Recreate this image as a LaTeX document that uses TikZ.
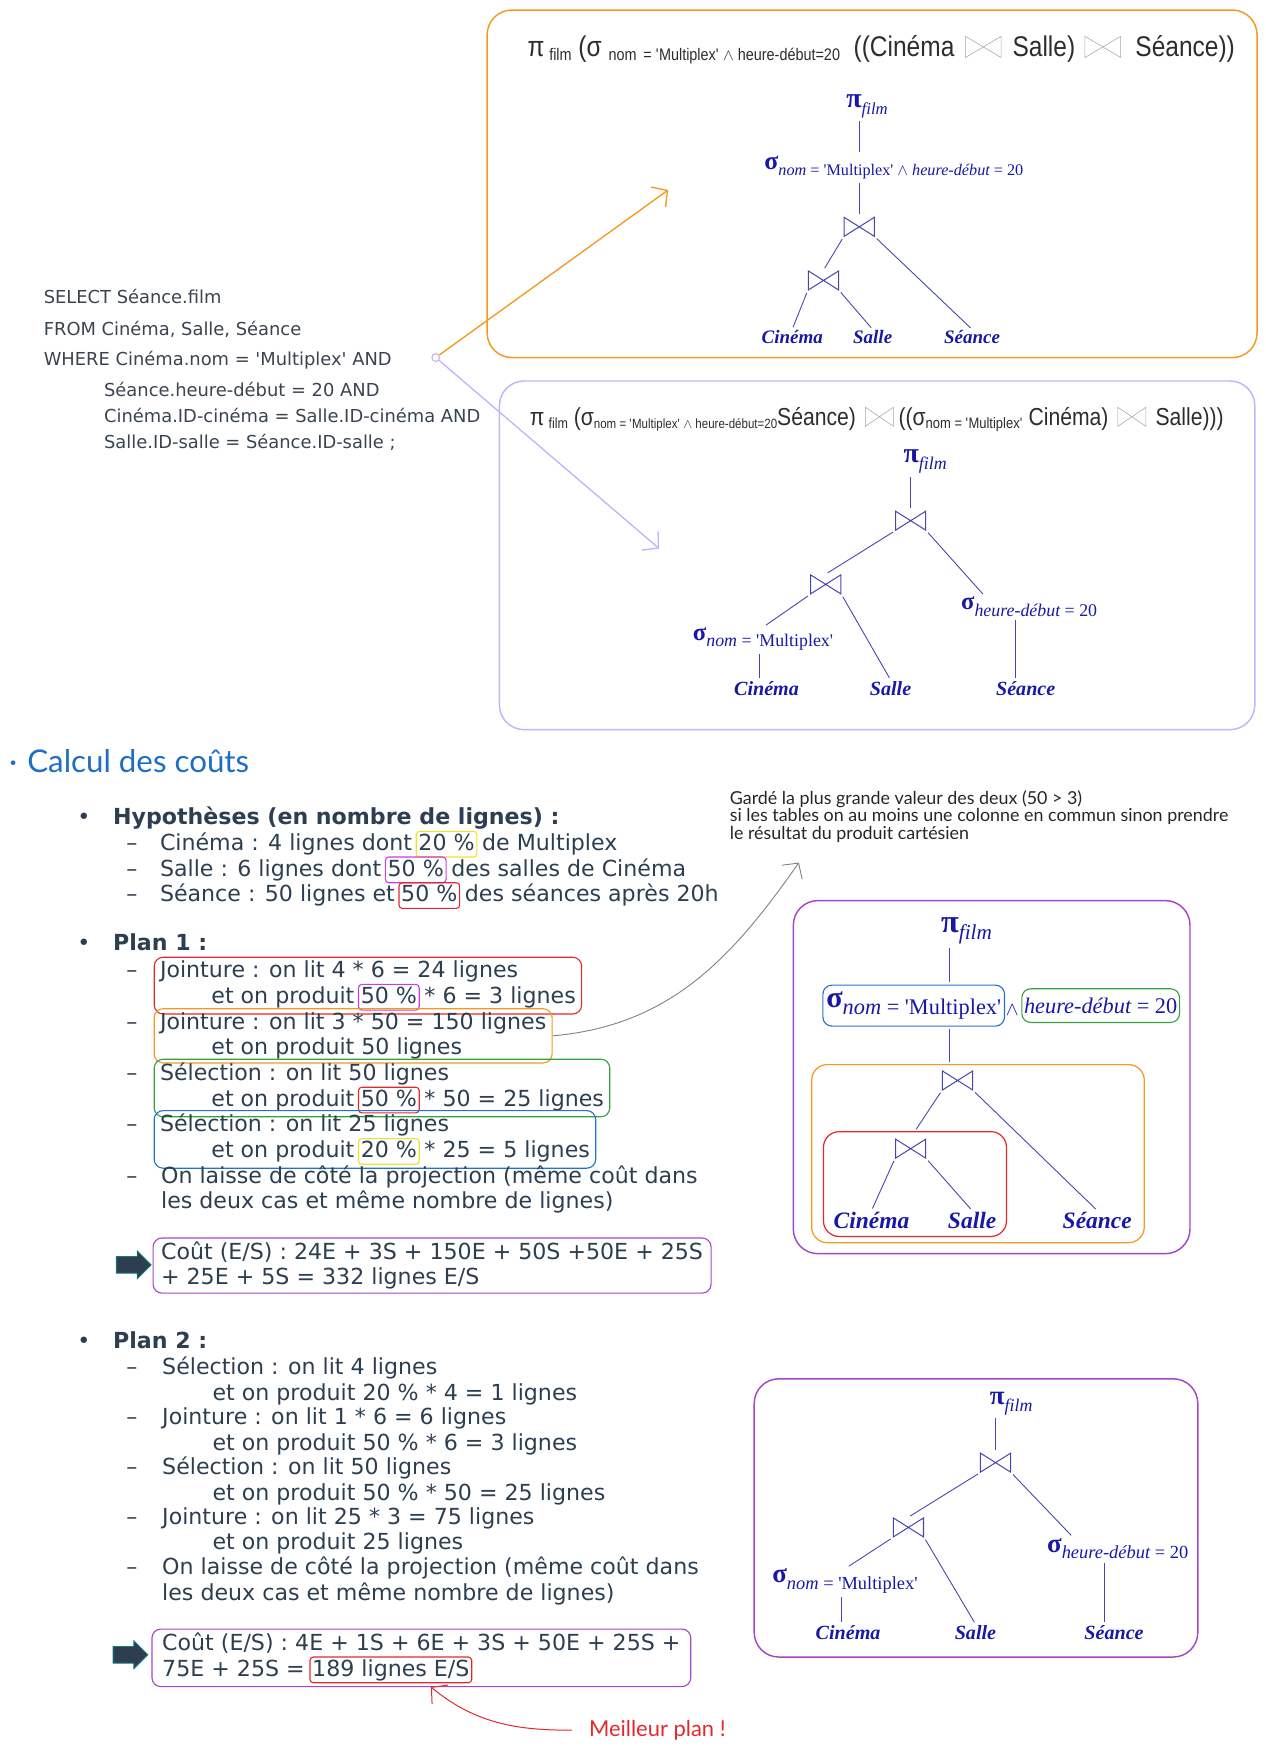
\documentclass[tikz,border=0pt]{standalone}
\usepackage{fontspec}
\setmainfont{DejaVu Sans}
\newfontfamily\treefont{Liberation Serif}
\newfontfamily\hdrfont{Liberation Sans}[FakeStretch=0.86]
\newfontfamily\handfont{Lato}
\usetikzlibrary{arrows.meta,positioning,fit,shapes.arrows}
\definecolor{ink}{RGB}{44,62,80}
\definecolor{sqlgray}{RGB}{58,68,80}
\definecolor{hdrgray}{RGB}{45,45,45}
\definecolor{treeblue}{RGB}{24,24,165}
\definecolor{edgeblue}{RGB}{70,70,175}
\definecolor{boxorange}{RGB}{245,152,30}
\definecolor{lavender}{RGB}{192,180,250}
\definecolor{boxpurple}{RGB}{165,70,200}
\definecolor{boxred}{RGB}{228,40,45}
\definecolor{boxmagenta}{RGB}{205,60,225}
\definecolor{boxyellow}{RGB}{235,228,40}
\definecolor{boxgreen}{RGB}{55,160,65}
\definecolor{boxblue}{RGB}{35,115,205}
\definecolor{handblue}{RGB}{30,110,195}
\definecolor{arrowteal}{RGB}{20,120,115}
\newcommand{\q}{\textquotesingle}
\newcommand{\lo}[2]{\raisebox{-.3em}{\fontsize{#1}{#1}\selectfont #2}}
\newcommand{\lw}[2]{\raisebox{-.12em}{\fontsize{#1}{#1}\selectfont #2}}
\newcommand{\sig}[1]{{\bfseries\fontsize{#1}{#1}\selectfont σ}}
\newcommand{\pif}[2]{{\bfseries\fontsize{#1}{#1}\selectfont π}\lo{#2}{\itshape film}}
\tikzset{%
    txt/.style={anchor=base west, inner sep=0pt, text=ink, font=\fontsize{19.8}{23}\selectfont},
    sql/.style={anchor=base west, inner sep=0pt, text=sqlgray, font=\fontsize{16}{16}\selectfont},
    hdr/.style={anchor=base west, inner sep=0pt, text=hdrgray, font=\hdrfont\fontsize{#1}{#1}\selectfont},
    pct/.style={draw=#1, line width=1pt, rounded corners=3pt, inner xsep=2pt, inner ysep=1pt,
        text height=16pt, text depth=5pt, anchor=base west, text=ink, font=\fontsize{19.8}{23}\selectfont},
    itembox/.style={draw=#1, line width=1pt, rounded corners=8pt, inner xsep=5pt, inner ysep=3pt},
    frame/.style={draw=#1, line width=1.3pt, rounded corners=22pt},
    grp/.style={draw=#1, line width=1.1pt, rounded corners=14pt},
    bowtie/.style={inner sep=0pt, path picture={%
        \draw[#1] ([shift={(.5pt,-.5pt)}]path picture bounding box.north west)
            -- ([shift={(-.5pt,.5pt)}]path picture bounding box.south east)
            -- ([shift={(-.5pt,-.5pt)}]path picture bounding box.north east)
            -- ([shift={(.5pt,.5pt)}]path picture bounding box.south west) -- cycle;}},
    hjoin/.style={bowtie={gray!70, line width=.5pt}, minimum width=33, minimum height=20},
    tjoin/.style={bowtie={edgeblue, line width=.9pt}, minimum width=28, minimum height=18},
    op/.style={inner sep=1pt, text=treeblue, font=\treefont\fontsize{#1}{#1}\selectfont},
    leaf/.style={inner sep=1pt, text=treeblue, font=\treefont\bfseries\itshape\fontsize{#1}{#1}\selectfont},
    tedge/.style={draw=edgeblue, line width=.8pt, shorten <=2pt, shorten >=2pt},
    hand/.style={anchor=base west, inner sep=0pt, font=\handfont\fontsize{#1}{#1}\selectfont},
    bigarrow/.style={single arrow, fill=ink, draw=arrowteal, line width=.8pt, minimum height=31pt,
        minimum width=24pt, single arrow head extend=5pt, inner xsep=0pt, inner ysep=7pt},
    barb/.style={-{Straight Barb[length=10pt,width=22pt]}}
}

\begin{document}
\begin{tikzpicture}[x=1pt,y=-1pt]
    \useasboundingbox (0,0) rectangle (1133,1568);

    % the two equivalent expressions
    \draw[frame=boxorange] (436,9) rectangle (1125,320);
    \draw[frame=lavender] (447,341) rectangle (1123,653);

    \node[hdr=25.5] (f1a) at (472,51) {π\,\lw{15}{film} (σ \lw{15}{nom \,= \q Multiplex\q\ $\wedge$ heure-début=20}\ \ ((Cinéma};
    \node[hjoin] (f1j) at (880,42) {};
    \node[hdr=25.5] (f1b) at (906,51) {Salle)};
    \node[hjoin] (f1k) at (987,42) {};
    \node[hdr=25.5] (f1c) at (1016,51) {Séance))};

    \node[hdr=22] (f2a) at (474,381) {π\,\lw{13}{film} (σ\lw{12}{nom = \q Multiplex\q\ $\wedge$ heure-début=20}Séance)};
    \node[hjoin, minimum width=26, minimum height=18] (f2j) at (787,373) {};
    \node[hdr=22] (f2b) at (804,381) {((σ\lw{13.5}{nom = \q Multiplex\q}\ Cinéma)};
    \node[hjoin, minimum width=26, minimum height=18] (f2k) at (1013,373) {};
    \node[hdr=22] (f2c) at (1034,381) {Salle)))};

    % tree 1
    \node[op=20] (t1p) at (776,95) {\pif{25}{15}};
    \node[op=20] (t1s) at (800,150) {\sig{23}\lo{14.5}{\itshape nom \upshape= \q Multiplex\q\ $\wedge$ \itshape heure-début \upshape= 20}};
    \node[tjoin] (t1j) at (769,203) {};
    \node[tjoin] (t1k) at (737,251) {};
    \node[leaf=17] (t1c) at (709,302) {Cinéma};
    \node[leaf=17] (t1l) at (781,302) {Salle};
    \node[leaf=17] (t1e) at (870,302) {Séance};
    \draw[tedge] (t1j |- t1p.south) -- (t1j |- t1s.north);
    \draw[tedge] (t1j |- t1s.south) -- (t1j.north);
    \draw[tedge] (t1j.south west) -- (t1k.north);
    \draw[tedge] (t1j.south east) -- (t1e.north);
    \draw[tedge] (t1k.south west) -- (t1c.north);
    \draw[tedge] (t1k.south east) -- (t1l.north);

    % tree 2
    \node[op=20] (t2p) at (828,413) {\pif{25}{16}};
    \node[tjoin] (t2j) at (815,466) {};
    \node[tjoin] (t2k) at (739,523) {};
    \node[op=19, anchor=west] (t2n) at (619,572) {\sig{22}\lo{16}{\itshape nom \upshape= \q Multiplex\q}};
    \node[op=19, anchor=west] (t2h) at (859,543) {\sig{22}\lo{16}{\itshape heure-début \upshape= 20}};
    \node[leaf=18] (t2c) at (686,616) {Cinéma};
    \node[leaf=18] (t2l) at (797,616) {Salle};
    \node[leaf=18] (t2e) at (918,616) {Séance};
    \coordinate (t2y) at ([xshift=61pt]t2n.south west);
    \coordinate (t2z) at ([xshift=50pt]t2h.south west);
    \draw[tedge] (t2j |- t2p.south) -- (t2j.north);
    \draw[tedge] (t2j.south west) -- (t2k.north);
    \draw[tedge] (t2j.south east) -- ([xshift=22pt]t2h.north west);
    \draw[tedge] (t2k.south west) -- ([xshift=65pt]t2n.north west);
    \draw[tedge] (t2k.south east) -- (t2l.north);
    \draw[tedge] (t2y) -- (t2y |- t2c.north);
    \draw[tedge] (t2z) -- (t2z |- t2e.north);

    % SQL query
    \node[sql] (s1) at (39,272) {SELECT Séance.film};
    \node[sql] (s2) at (39,300) {FROM Cinéma, Salle, Séance};
    \node[sql] (s3) at (39,327) {WHERE Cinéma.nom = \q Multiplex\q\ AND};
    \node[sql] (s4) at (93,355) {Séance.heure-début = 20 AND};
    \node[sql] (s5) at (93,378) {Cinéma.ID-cinéma = Salle.ID-cinéma AND};
    \node[sql] (s6) at (93,401) {Salle.ID-salle = Séance.ID-salle ;};
    \node[circle, draw=lavender, line width=1pt, minimum size=7, inner sep=0pt] (src) at (390,320) {};
    \coordinate (a1) at (598,170);
    \coordinate (a2) at (590,491);
    \draw[boxorange, line width=1.2pt, barb] (src) -- (a1);
    \draw[lavender, line width=1.2pt, barb] (src) -- (a2);

    % costs
    \node[hand=28, text=handblue] (calc) at (8,691) {·\hspace{9pt}Calcul des coûts};

    \node[txt] (y0m) at (69,738) {•};
    \node[txt, font=\bfseries\fontsize{19.8}{23}\selectfont] (y0) at (101,738) {Hypothèses (en nombre de lignes) :};
    \node[txt] (y1m) at (113,761) {–};
    \node[txt] (y1a) at (143,761) {Cinéma : 4 lignes dont};
    \node[pct=boxyellow, xshift=3pt] (y1b) at (y1a.base east) {20 \%};
    \node[txt, xshift=4pt] (y1c) at (y1b.base east) {de Multiplex};
    \node[txt] (y2m) at (113,784) {–};
    \node[txt] (y2a) at (143,784) {Salle : 6 lignes dont};
    \node[pct=boxmagenta, xshift=3pt] (y2b) at (y2a.base east) {50 \%};
    \node[txt, xshift=4pt] (y2c) at (y2b.base east) {des salles de Cinéma};
    \node[txt] (y3m) at (113,807) {–};
    \node[txt] (y3a) at (143,807) {Séance : 50 lignes et};
    \node[pct=boxred, xshift=3pt] (y3b) at (y3a.base east) {50 \%};
    \node[txt, xshift=4pt] (y3c) at (y3b.base east) {des séances après 20h};

    \node[hand=16, anchor=north west, align=left, text=black!85] (note) at (653,707)
        {Gardé la plus grande valeur des deux (50 > 3)\\si les tables on au moins une colonne en commun sinon prendre\\le résultat du produit cartésien};

    % plan 1
    \node[txt] (q0m) at (69,851) {•};
    \node[txt, font=\bfseries\fontsize{19.8}{23}\selectfont] (q0) at (101,851) {Plan 1 :};
    \node[txt] (q1m) at (113,875) {–};
    \node[txt] (q1a) at (143,875) {Jointure : on lit 4 * 6 = 24 lignes};
    \node[txt] (q1b) at (189,898) {et on produit};
    \node[pct=boxmagenta, xshift=3pt] (q1c) at (q1b.base east) {50 \%};
    \node[txt, xshift=4pt] (q1d) at (q1c.base east) {* 6 = 3 lignes};
    \node[itembox=boxred, fit=(q1a)(q1b)(q1c)(q1d)] (q1) {};
    \node[txt] (q2m) at (113,921) {–};
    \node[txt] (q2a) at (143,921) {Jointure : on lit 3 * 50 = 150 lignes};
    \node[txt] (q2b) at (189,944) {et on produit 50 lignes};
    \node[itembox=boxorange, fit=(q2a)(q2b)] (q2) {};
    \node[txt] (q3m) at (113,967) {–};
    \node[txt] (q3a) at (143,967) {Sélection : on lit 50 lignes};
    \node[txt] (q3b) at (189,990) {et on produit};
    \node[pct=boxred, xshift=3pt] (q3c) at (q3b.base east) {50 \%};
    \node[txt, xshift=4pt] (q3d) at (q3c.base east) {* 50 = 25 lignes};
    \node[itembox=boxgreen, fit=(q3a)(q3b)(q3c)(q3d)] (q3) {};
    \node[txt] (q4m) at (113,1013) {–};
    \node[txt] (q4a) at (143,1013) {Sélection : on lit 25 lignes};
    \node[txt] (q4b) at (189,1036) {et on produit};
    \node[pct=boxyellow, xshift=3pt] (q4c) at (q4b.base east) {20 \%};
    \node[txt, xshift=4pt] (q4d) at (q4c.base east) {* 25 = 5 lignes};
    \node[itembox=boxblue, fit=(q4a)(q4b)(q4c)(q4d)] (q4) {};
    \node[txt] (q5m) at (113,1059) {–};
    \node[txt] (q5a) at (144,1059) {On laisse de côté la projection (même coût dans};
    \node[txt] (q5b) at (144,1082) {les deux cas et même nombre de lignes)};
    \node[bigarrow] (ar1) at (116,1132) {};
    \node[txt] (q6a) at (144,1127) {Coût (E/S) : 24E + 3S + 150E + 50S +50E + 25S};
    \node[txt] (q6b) at (144,1150) {+ 25E + 5S = 332 lignes E/S};
    \node[itembox=boxpurple, fit=(q6a)(q6b), inner xsep=7pt] (q6) {};
    \coordinate (nt) at (715,772);
    \draw[gray, line width=.8pt, barb] (q2.east) to[out=5, in=-125] (nt);

    % tree 3
    \draw[frame=boxpurple] (710,806) rectangle (1065,1122);
    \node[op=21] (t3p) at (865,833) {\pif{29}{19}};
    \node[op=21, anchor=west, draw=boxblue, line width=1pt, rounded corners=8pt, inner xsep=3pt, inner ysep=6pt] (t3n) at (736,900) {\sig{27}\lo{20}{\itshape nom \upshape= \q Multiplex\q}};
    \node[op=19] (t3w) at (906,904) {$\wedge$};
    \node[op=20, anchor=west, draw=boxgreen, line width=1pt, rounded corners=8pt, inner xsep=2pt, inner ysep=8pt] (t3h) at (914,900) {\itshape heure-début \upshape= 20};
    \node[tjoin] (t3j) at (857,967) {};
    \node[tjoin] (t3k) at (815,1028) {};
    \node[leaf=21] (t3c) at (780,1092) {Cinéma};
    \node[leaf=21] (t3l) at (870,1092) {Salle};
    \node[leaf=21] (t3e) at (982,1092) {Séance};
    \node[grp=boxred, fit=(t3k)(t3c)(t3l), inner xsep=8pt, inner ysep=6pt] (t3g) {};
    \node[grp=boxorange, fit=(t3g)(t3j)(t3e), inner xsep=10pt, inner ysep=5pt] (t3f) {};
    \coordinate (t3x) at ([xshift=-15pt]t3p.south);
    \draw[tedge] (t3x) -- (t3x |- t3n.north);
    \draw[tedge] (t3x |- t3n.south) -- (t3x |- t3f.north);
    \draw[tedge] (t3j.south west) -- (t3g.north);
    \draw[tedge] (t3j.south east) -- (t3e.north);
    \draw[tedge] (t3k.south west) -- (t3c.north);
    \draw[tedge] (t3k.south east) -- (t3l.north);

    % plan 2
    \node[txt] (r0m) at (69,1207) {•};
    \node[txt, font=\bfseries\fontsize{19.8}{23}\selectfont] (r0) at (101,1207) {Plan 2 :};
    \node[txt] (r1m) at (113,1230) {–};
    \node[txt] (r1) at (145,1230) {Sélection : on lit 4 lignes};
    \node[txt] (r2) at (190,1253) {et on produit 20 \% * 4 = 1 lignes};
    \node[txt] (r3m) at (113,1275) {–};
    \node[txt] (r3) at (145,1275) {Jointure : on lit 1 * 6 = 6 lignes};
    \node[txt] (r4) at (190,1298) {et on produit 50 \% * 6 = 3 lignes};
    \node[txt] (r5m) at (113,1320) {–};
    \node[txt] (r5) at (145,1320) {Sélection : on lit 50 lignes};
    \node[txt] (r6) at (190,1343) {et on produit 50 \% * 50 = 25 lignes};
    \node[txt] (r7m) at (113,1364) {–};
    \node[txt] (r7) at (145,1364) {Jointure : on lit 25 * 3 = 75 lignes};
    \node[txt] (r8) at (190,1387) {et on produit 25 lignes};
    \node[txt] (r9m) at (113,1409) {–};
    \node[txt] (r9) at (145,1409) {On laisse de côté la projection (même coût dans};
    \node[txt] (r10) at (145,1432) {les deux cas et même nombre de lignes)};
    \node[bigarrow] (ar2) at (113,1481) {};
    \node[txt] (k1) at (145,1477) {Coût (E/S) : 4E + 1S + 6E + 3S + 50E + 25S +};
    \node[txt] (k2) at (145,1500) {75E + 25S =};
    \node[pct=boxred, xshift=4pt] (k3) at (k2.base east) {189 lignes E/S};
    \node[itembox=boxpurple, fit=(k1)(k2)(k3), inner xsep=9pt] (k0) {};
    \node[hand=19.6, text=boxred] (best) at (527,1554) {Meilleur plan !};
    \draw[boxred, line width=.9pt, barb, shorten <=15pt, shorten >=5pt] (best.west) to[out=180, in=-40] ([xshift=32pt]k3.south);

    % tree 4
    \draw[frame=boxpurple] (675,1234) rectangle (1072,1483);
    \node[op=20] (t4p) at (905,1256) {\pif{24}{16}};
    \node[tjoin] (t4j) at (891,1309) {};
    \node[tjoin] (t4k) at (813,1367) {};
    \node[op=20, anchor=west] (t4n) at (690,1415) {\sig{24}\lo{16.5}{\itshape nom \upshape= \q Multiplex\q}};
    \node[op=20, anchor=west] (t4h) at (936,1386) {\sig{24}\lo{16.5}{\itshape heure-début \upshape= 20}};
    \node[leaf=18] (t4c) at (759,1461) {Cinéma};
    \node[leaf=18] (t4l) at (873,1461) {Salle};
    \node[leaf=18] (t4e) at (997,1461) {Séance};
    \coordinate (t4y) at ([xshift=63pt]t4n.south west);
    \coordinate (t4z) at ([xshift=52pt]t4h.south west);
    \draw[tedge] (t4j |- t4p.south) -- (t4j.north);
    \draw[tedge] (t4j.south west) -- (t4k.north);
    \draw[tedge] (t4j.south east) -- ([xshift=24pt]t4h.north west);
    \draw[tedge] (t4k.south west) -- ([xshift=68pt]t4n.north west);
    \draw[tedge] (t4k.south east) -- (t4l.north);
    \draw[tedge] (t4y) -- (t4y |- t4c.north);
    \draw[tedge] (t4z) -- (t4z |- t4e.north);
\end{tikzpicture}
\end{document}
